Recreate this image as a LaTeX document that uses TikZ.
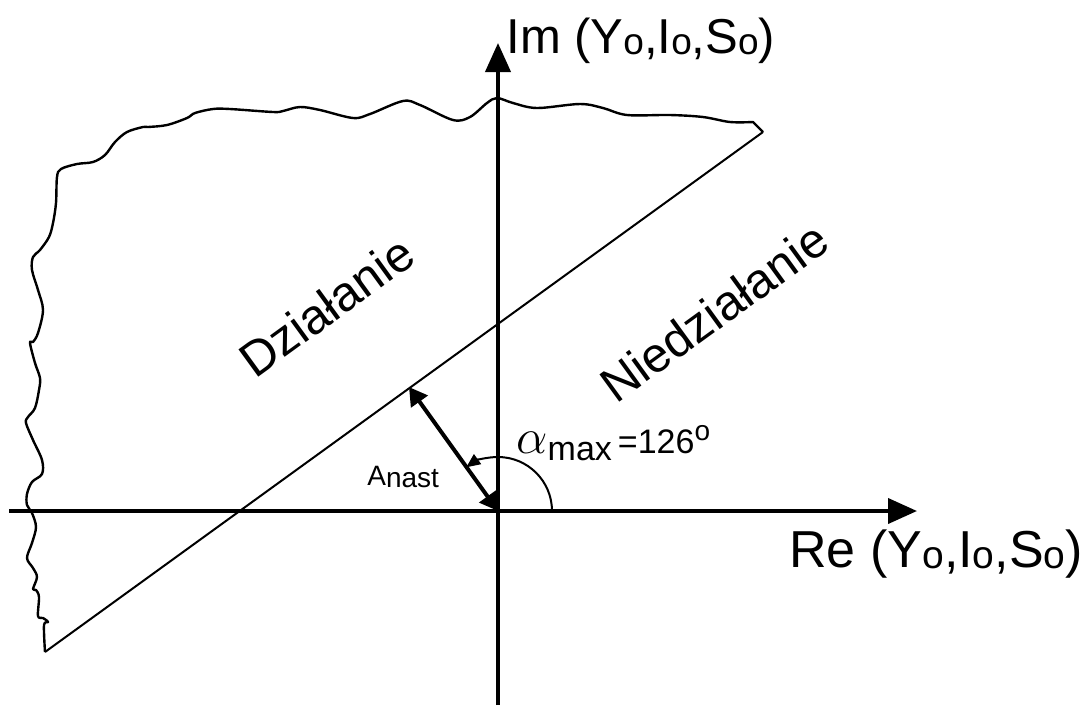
\documentclass[tikz,border=0pt]{standalone}
\usepackage{fontspec}
\setmainfont{Liberation Sans}
\usetikzlibrary{arrows.meta}
\newcommand{\subo}{\raisebox{-0.5pt}{\fontsize{18.5pt}{18.5pt}\selectfont o}}
\newcommand{\subob}{\raisebox{-0.5pt}{\fontsize{19.5pt}{19.5pt}\selectfont o}}
\tikzset{
  axis/.style={line width=2pt,-{Triangle[length=14.5pt,width=12.5pt]}},
  boundary/.style={line width=1.2pt,line join=round},
  divline/.style={line width=1pt},
  dimarrow/.style={line width=2pt,{Triangle[length=9pt,width=10pt]}-{Triangle[length=9pt,width=10pt]}},
  arcarrow/.style={line width=1pt,-{Triangle[length=7pt,width=6pt]}},
  bigtxt/.style={inner sep=0pt,font=\fontsize{24.5pt}{29pt}\selectfont},
  retxt/.style={inner sep=0pt,font=\fontsize{26pt}{30pt}\selectfont},
  midtxt/.style={inner sep=0pt,font=\fontsize{17pt}{20pt}\selectfont},
  smalltxt/.style={inner sep=0pt,font=\fontsize{14pt}{17pt}\selectfont}
}
\begin{document}
\begin{tikzpicture}[x=0.5pt,y=-0.5pt]
\useasboundingbox (0,0) rectangle (1083,709);
\coordinate (O) at (498,511);
\coordinate (imtop) at (498,43);
\coordinate (imbot) at (498,705);
\coordinate (releft) at (9,511);
\coordinate (retip) at (917,511);
\coordinate (L1) at (45,652);
\coordinate (L2) at (763,132);
\coordinate (P) at (409,387);
% wavy boundary
\draw[boundary] plot[smooth,tension=0.55] coordinates {
(45,652) (44,625) (48,622) (43,618) (38,616) (39,597) (36,590) (33,589) (37,577) (33,568)
(27,558) (32,543) (36,527) (32,513) (27,505) (27,494) (32,482) (42,474) (42,460) (33,440)
(26,423) (28,417) (35,408) (39,390) (40,378) (35,363) (30,343) (33,342) (38,333) (43,310)
(38,290) (32,270) (33,257) (40,250) (49,237) (53,223) (56,203) (57,177) (61,169) (77,164)
(93,162) (105,155) (115,142) (127,132) (143,127) (148,127) (167,125) (187,118) (195,113)
(213,109) (230,109) (273,112) (283,111) (300,107) (320,110) (353,118) (370,114) (403,101)
(420,105) (453,120) (470,117) (487,103) (497,98) (513,103) (537,108) (580,104) (603,108)
(627,115) (670,115) (703,117) (730,122) (753,122)} -- (L2);
\draw[divline] (L1) -- (L2);
% axes
\draw[axis] (releft) -- (retip);
\draw[axis] (imbot) -- (imtop);
% arrows
\draw[dimarrow] (P) -- (O);
\draw[arcarrow] ([xshift=27pt]O) arc[start angle=0,end angle=126,radius=27pt];
% labels
\node[bigtxt,anchor=base west] (imlab) at (506,53) {Im (Y\subo,I\subo,S\subo)};
\node[retxt,anchor=base west] (relab) at (789,567) {Re (Y\subob,I\subob,S\subob)};
\node[bigtxt,anchor=base west,rotate=36] (dzial) at (255,380) {Działanie};
\node[bigtxt,anchor=base west,rotate=36] (niedz) at (616,405) {Niedziałanie};
\node[midtxt,anchor=base west] (alpha) at (516,453) {{\fontsize{23pt}{23pt}\selectfont$\alpha$}\raisebox{-3.5pt}{max}\hspace{3pt}=126\raisebox{6.5pt}{\fontsize{14pt}{14pt}\selectfont o}};
\node[smalltxt,anchor=base west] (anast) at (367,485) {A\raisebox{-1pt}{nast}};
\end{tikzpicture}
\end{document}
